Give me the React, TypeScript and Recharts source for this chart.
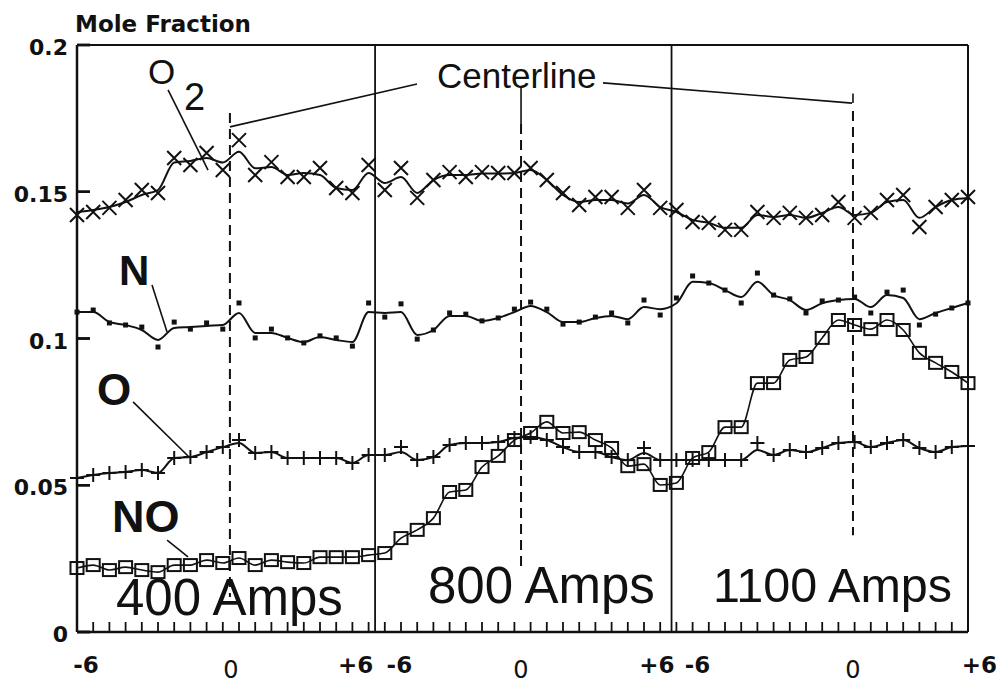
import { Line, LineChart, ReferenceLine, XAxis, YAxis } from "recharts";

// sample index along the three traverses (19 samples per current setting)
const POSITIONS = [
  0, 1, 2, 3, 4, 5, 6, 7, 8, 9, 10, 11, 12, 13, 14, 15, 16, 17, 18, 19, 20, 21, 22, 23, 24, 25, 26, 27,
  28, 29, 30, 31, 32, 33, 34, 35, 36, 37, 38, 39, 40, 41, 42, 43, 44, 45, 46, 47, 48, 49, 50, 51, 52,
  53, 54, 55,
];

const O2_RAW = [
  0.1421, 0.1431, 0.1445, 0.1472, 0.1506, 0.1496, 0.1615, 0.1591, 0.1632, 0.1574, 0.1676, 0.1557,
  0.1601, 0.155, 0.155, 0.1581, 0.1513, 0.1496, 0.1591, 0.1506, 0.1581, 0.1479, 0.154, 0.1567, 0.155,
  0.1567, 0.1564, 0.1564, 0.1581, 0.154, 0.1496, 0.1455, 0.1482, 0.1482, 0.1445, 0.1506, 0.1445,
  0.1438, 0.1397, 0.1394, 0.137, 0.137, 0.1431, 0.1411, 0.1428, 0.1411, 0.1421, 0.1465, 0.1411,
  0.1428, 0.1472, 0.1489, 0.138, 0.1448, 0.1472, 0.1482,
];
const O2_FIT = [
  0.1431, 0.1438, 0.1448, 0.1465, 0.1489, 0.1506, 0.16, 0.1605, 0.1615, 0.16, 0.1636, 0.158, 0.1584,
  0.1557, 0.1564, 0.1557, 0.1513, 0.1506, 0.1564, 0.153, 0.155, 0.1496, 0.154, 0.1557, 0.1557, 0.1562,
  0.1562, 0.1564, 0.1574, 0.154, 0.1489, 0.1465, 0.1472, 0.1472, 0.146, 0.1489, 0.1448, 0.1431,
  0.1404, 0.1394, 0.1377, 0.1377, 0.1421, 0.1414, 0.1421, 0.1411, 0.1428, 0.1448, 0.1421, 0.1428,
  0.1465, 0.1472, 0.1411, 0.1448, 0.1472, 0.1479,
];

const N_RAW = [
  0.109, 0.1097, 0.1053, 0.1046, 0.1039, 0.0971, 0.1056, 0.1032, 0.1053, 0.1032, 0.1121, 0.1002,
  0.1032, 0.1002, 0.0985, 0.1009, 0.1002, 0.0974, 0.1121, 0.1073, 0.1118, 0.0998, 0.1029, 0.1087,
  0.1083, 0.106, 0.107, 0.11, 0.1124, 0.11, 0.1049, 0.1056, 0.1073, 0.1087, 0.1053, 0.1131, 0.108,
  0.1138, 0.1213, 0.1189, 0.1165, 0.1121, 0.1223, 0.1148, 0.1135, 0.1087, 0.1128, 0.1131, 0.1141,
  0.1087, 0.1158, 0.1165, 0.1046, 0.1083, 0.1104, 0.1121,
];
const N_FIT = [
  0.109, 0.109, 0.1056, 0.1046, 0.1029, 0.0995, 0.1036, 0.1039, 0.1043, 0.1046, 0.1087, 0.1019,
  0.1019, 0.1002, 0.0988, 0.1005, 0.0995, 0.0988, 0.109, 0.1087, 0.109, 0.1012, 0.1029, 0.1077,
  0.1077, 0.106, 0.107, 0.109, 0.1111, 0.109, 0.1056, 0.1056, 0.107, 0.1077, 0.1066, 0.1107, 0.11,
  0.112, 0.1193, 0.1189, 0.1165, 0.1141, 0.1193, 0.1148, 0.1131, 0.1097, 0.112, 0.1131, 0.1135,
  0.1107, 0.1148, 0.1138, 0.1066, 0.1087, 0.1104, 0.1121,
];

const O_RAW = [
  0.0525, 0.0535, 0.0542, 0.0545, 0.0552, 0.0542, 0.0593, 0.0596, 0.0613, 0.063, 0.0654, 0.061,
  0.0613, 0.0593, 0.0593, 0.0593, 0.0593, 0.0576, 0.0603, 0.0603, 0.063, 0.0586, 0.0596, 0.0637,
  0.0644, 0.0644, 0.0647, 0.0661, 0.0664, 0.0654, 0.063, 0.0613, 0.0613, 0.0596, 0.0586, 0.0627,
  0.0586, 0.0586, 0.0586, 0.0586, 0.0586, 0.0586, 0.0644, 0.0603, 0.062, 0.0613, 0.0627, 0.0644,
  0.0647, 0.063, 0.0644, 0.0654, 0.0627, 0.0613, 0.063, 0.0634,
];
const O_FIT = [
  0.0525, 0.0535, 0.0542, 0.0545, 0.0552, 0.0542, 0.0593, 0.0596, 0.0613, 0.063, 0.0644, 0.061,
  0.0613, 0.0593, 0.0593, 0.0593, 0.0593, 0.0576, 0.0603, 0.0603, 0.0613, 0.0586, 0.0596, 0.0637,
  0.0644, 0.0644, 0.0647, 0.0661, 0.0664, 0.0654, 0.063, 0.0613, 0.0613, 0.0596, 0.0586, 0.061,
  0.0586, 0.0586, 0.0586, 0.0586, 0.0586, 0.0586, 0.062, 0.0603, 0.062, 0.0613, 0.0627, 0.0644,
  0.0647, 0.063, 0.0644, 0.0654, 0.0627, 0.0613, 0.063, 0.0634,
];

const NO_RAW = [
  0.0218, 0.0228, 0.0211, 0.0221, 0.0211, 0.0204, 0.0228, 0.0228, 0.0245, 0.0235, 0.0252, 0.0228,
  0.0245, 0.0238, 0.0235, 0.0255, 0.0255, 0.0255, 0.0262, 0.0269, 0.032, 0.0348, 0.0388, 0.0477,
  0.0484, 0.0562, 0.06, 0.0654, 0.0678, 0.0716, 0.0678, 0.0681, 0.0654, 0.0627, 0.0565, 0.0572,
  0.0501, 0.0508, 0.0593, 0.0613, 0.0698, 0.0698, 0.0848, 0.0848, 0.0927, 0.0937, 0.1002, 0.1063,
  0.1046, 0.1032, 0.1063, 0.1029, 0.0951, 0.0917, 0.0886, 0.0848,
];

const Y_TICKS = [0, 0.05, 0.1, 0.15, 0.2];
const X_LABEL_TICKS = [0.55, 9.5, 17.2, 19.9, 27.4, 35.8, 38.3, 47.9, 55.7];
const X_LABELS = ["-6", "0", "+6", "-6", "0", "+6", "-6", "0", "+6"];
const PANEL_EDGES = [18.4, 36.7];

const data = POSITIONS.map((x, i) => ({
  x,
  o2: O2_RAW[i],
  o2Fit: O2_FIT[i],
  n: N_RAW[i],
  nFit: N_FIT[i],
  o: O_RAW[i],
  oFit: O_FIT[i],
  no: NO_RAW[i],
}));

// leader lines from the labels to the curves / centerlines (data coords)
const LEADERS = [
  [5.62, 0.1847, 8.09, 0.1574],
  [4.63, 0.1182, 5.56, 0.1022],
  [3.46, 0.0784, 6.98, 0.0593],
  [5.56, 0.0313, 6.85, 0.0256],
  [9.44, 0.1721, 20.99, 0.1867],
  [32.47, 0.1871, 47.84, 0.1802],
  [27.41, 0.1857, 27.41, 0.1731],
  [47.9, 0.1835, 47.9, 0.1802],
];
const CENTERLINES = [
  [9.44, 0.1768, 0.0119],
  [27.41, 0.1731, 0.0211],
  [47.9, 0.1775, 0.033],
];

const INK = "#111";
const SANS = "'Liberation Sans', Arial, sans-serif";
const BOLD = "'DejaVu Sans', sans-serif";

const XMark = (p: any) => {
  const { cx, cy, index } = p;
  if (cx == null || cy == null) return <g key={`xm-${index}`} />;
  const s = 7;
  return (
    <path
      key={`xm-${index}`}
      d={`M${cx - s},${cy - s}L${cx + s},${cy + s}M${cx - s},${cy + s}L${cx + s},${cy - s}`}
      stroke={INK}
      strokeWidth={2}
      fill="none"
    />
  );
};

const DotMark = (p: any) => {
  const { cx, cy, index } = p;
  if (cx == null || cy == null) return <g key={`dm-${index}`} />;
  return <rect key={`dm-${index}`} x={cx - 2.5} y={cy - 2.5} width={5} height={5} fill={INK} />;
};

const PlusMark = (p: any) => {
  const { cx, cy, index } = p;
  if (cx == null || cy == null) return <g key={`pm-${index}`} />;
  const s = 7;
  return (
    <path
      key={`pm-${index}`}
      d={`M${cx - s},${cy}L${cx + s},${cy}M${cx},${cy - s}L${cx},${cy + s}`}
      stroke={INK}
      strokeWidth={2}
      fill="none"
    />
  );
};

const SquareMark = (p: any) => {
  const { cx, cy, index } = p;
  if (cx == null || cy == null) return <g key={`sm-${index}`} />;
  return (
    <rect
      key={`sm-${index}`}
      x={cx - 6.5}
      y={cy - 6}
      width={13}
      height={12}
      fill="none"
      stroke={INK}
      strokeWidth={2}
    />
  );
};

// y labels plus the short inward tick mark
const YTick = ({ x, y, payload }: any) => (
  <g>
    <rect x={x} y={y - 1.25} width={13} height={2.5} fill={INK} />
    <text x={x - 9} y={y + 10} textAnchor="end" fontFamily={BOLD} fontWeight="bold" fontSize={22} fill={INK}>
      {String(payload.value)}
    </text>
  </g>
);

const MinorTick = ({ x, y }: any) => (
  <path d={`M${x},${y}V${y - 10}`} stroke={INK} strokeWidth={1.8} fill="none" />
);

const LabelTick = ({ x, y, index }: any) => {
  const t = X_LABELS[index];
  return (
    <text
      x={x}
      y={y + (t === "0" ? 45 : 40)}
      textAnchor="middle"
      fontFamily={BOLD}
      fontWeight={t === "0" ? "normal" : "bold"}
      fontSize={t === "0" ? 24 : 23}
      fill={INK}
    >
      {t}
    </text>
  );
};

export default function App() {
  return (
    <div style={{ position: "absolute", left: 0, top: 0, background: "#fff" }}>
      <LineChart width={996} height={684} data={data} margin={{ top: 45, right: 28, bottom: 0, left: 17 }}>
        <XAxis
          xAxisId="b"
          type="number"
          domain={[0, 55]}
          allowDataOverflow
          ticks={X_LABEL_TICKS}
          interval={0}
          height={51}
          tickSize={0}
          tickMargin={0}
          tickLine={false}
          axisLine={false}
          tick={<LabelTick />}
        />
        <XAxis
          xAxisId="a"
          dataKey="x"
          type="number"
          domain={[0, 55]}
          ticks={POSITIONS}
          interval={0}
          height={1}
          tickSize={0}
          tickMargin={0}
          tickLine={false}
          tick={<MinorTick />}
          axisLine={{ stroke: INK, strokeWidth: 2.5 }}
        />
        <YAxis
          type="number"
          domain={[0, 0.2]}
          ticks={Y_TICKS}
          interval={0}
          width={60}
          tickSize={0}
          tickMargin={0}
          tickLine={false}
          tick={<YTick />}
          axisLine={{ stroke: INK, strokeWidth: 2.5 }}
        />

        <ReferenceLine xAxisId="a" y={0.2} stroke={INK} strokeWidth={2} />
        <ReferenceLine xAxisId="a" x={55} stroke={INK} strokeWidth={2} />
        {Y_TICKS.map((v) => (
          <ReferenceLine
            key={`yt-${v}`}
            xAxisId="a"
            segment={[
              { x: 0.01, y: v },
              { x: 0.8, y: v },
            ]}
            stroke={INK}
            strokeWidth={2.5}
          />
        ))}
        {PANEL_EDGES.map((e) => (
          <ReferenceLine key={`edge-${e}`} xAxisId="a" x={e} stroke={INK} strokeWidth={1.8} />
        ))}
        {CENTERLINES.map(([x, y1, y2]) => (
          <ReferenceLine
            key={`cl-${x}`}
            xAxisId="a"
            segment={[
              { x, y: y1 },
              { x, y: y2 },
            ]}
            stroke={INK}
            strokeWidth={2}
            strokeDasharray="10 6"
          />
        ))}
        {LEADERS.map(([x1, y1, x2, y2], i) => (
          <ReferenceLine
            key={`ld-${i}`}
            xAxisId="a"
            segment={[
              { x: x1, y: y1 },
              { x: x2, y: y2 },
            ]}
            stroke={INK}
            strokeWidth={1.6}
          />
        ))}

        <Line xAxisId="a" dataKey="o2Fit" type="monotone" stroke={INK} strokeWidth={2} dot={false} activeDot={false} isAnimationActive={false} />
        <Line xAxisId="a" dataKey="o2" stroke="none" dot={XMark} activeDot={false} isAnimationActive={false} />
        <Line xAxisId="a" dataKey="nFit" type="monotone" stroke={INK} strokeWidth={2} dot={false} activeDot={false} isAnimationActive={false} />
        <Line xAxisId="a" dataKey="n" stroke="none" dot={DotMark} activeDot={false} isAnimationActive={false} />
        <Line xAxisId="a" dataKey="oFit" type="monotone" stroke={INK} strokeWidth={2} dot={false} activeDot={false} isAnimationActive={false} />
        <Line xAxisId="a" dataKey="o" stroke="none" dot={PlusMark} activeDot={false} isAnimationActive={false} />
        <Line xAxisId="a" dataKey="no" type="monotone" stroke={INK} strokeWidth={1.6} dot={SquareMark} activeDot={false} isAnimationActive={false} />

        <text x={75} y={32} fontFamily={BOLD} fontWeight="bold" fontSize={23} fill={INK}>
          Mole Fraction
        </text>
        <text x={437} y={88} fontFamily={SANS} fontSize={35} fill={INK}>
          Centerline
        </text>
        <text x={148} y={84} fontFamily={SANS} fontSize={35} fill={INK}>
          O
        </text>
        <text x={184} y={110} fontFamily={SANS} fontSize={38} fill={INK}>
          2
        </text>
        <text x={119} y={285} fontFamily={SANS} fontWeight="bold" fontSize={42} fill={INK}>
          N
        </text>
        <text x={97} y={405} fontFamily={SANS} fontWeight="bold" fontSize={44} fill={INK}>
          O
        </text>
        <text x={112} y={532} fontFamily={SANS} fontWeight="bold" fontSize={45} fill={INK}>
          NO
        </text>
        <text x={116} y={615} fontFamily={SANS} fontSize={51} fill={INK}>
          400 Amps
        </text>
        <text x={428} y={603} fontFamily={SANS} fontSize={51} fill={INK}>
          800 Amps
        </text>
        <text x={713} y={602} fontFamily={SANS} fontSize={48.5} fill={INK}>
          1100 Amps
        </text>
      </LineChart>
    </div>
  );
}
